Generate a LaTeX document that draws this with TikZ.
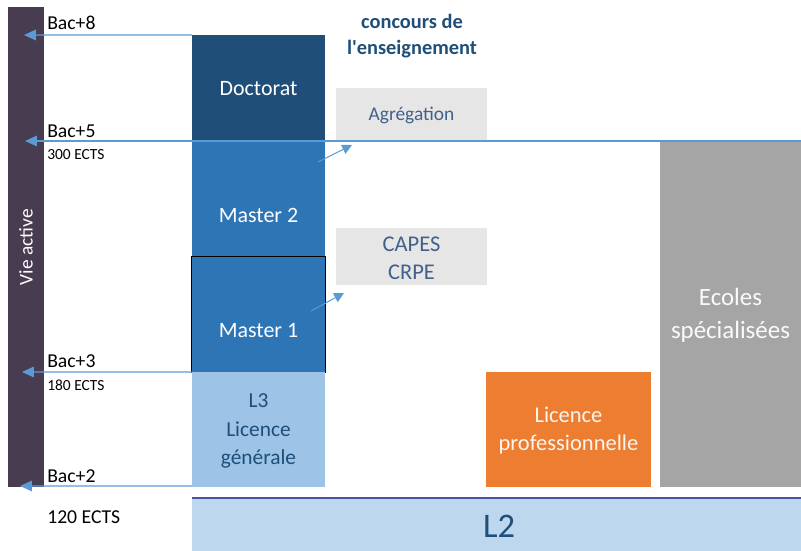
\documentclass[tikz,border=0pt]{standalone}
\usepackage{fontspec}
\setmainfont{Carlito}
\usetikzlibrary{arrows.meta}

\definecolor{vie}{HTML}{483D50}
\definecolor{doct}{HTML}{1F4E79}
\definecolor{mast}{HTML}{2E75B6}
\definecolor{lic3}{HTML}{9DC3E6}
\definecolor{lic2}{HTML}{BDD7EE}
\definecolor{conc}{HTML}{E7E6E6}
\definecolor{conctxt}{HTML}{41608A}
\definecolor{pro}{HTML}{ED7D31}
\definecolor{ecole}{HTML}{A5A5A5}
\definecolor{ligne}{HTML}{5B9BD5}
\definecolor{bordl2}{HTML}{4A55A2}

\tikzset{
  bloc/.style={rectangle, inner sep=0pt, outer sep=0pt},
  texte/.style={align=center, inner sep=0pt},
  niveau/.style={anchor=west, inner sep=0pt, font=\fontsize{14}{16}\selectfont},
  ects/.style={anchor=west, inner sep=0pt, font=\fontsize{11}{13}\selectfont},
  fleche/.style={draw=ligne, line width=1pt, -{Triangle[length=8.5pt,width=7.5pt]}},
  petite/.style={draw=ligne, line width=0.7pt, -{Triangle[length=7pt,width=7pt]}}
}

\begin{document}
\begin{tikzpicture}[x=0.025cm, y=-0.025cm]
  \useasboundingbox (0,0) rectangle (801,551);

  \node[bloc, fill=vie, rotate=90, minimum width=12cm, minimum height=0.9cm,
        text=white, font=\fontsize{13.8}{16}\selectfont] (vie) at (26,247) {Vie active};

  \node[bloc, fill=doct, minimum width=3.325cm, minimum height=2.65cm] (doctorat) at (258.5,88) {};
  \node[bloc, fill=mast, minimum width=3.325cm, minimum height=2.9cm] (master2) at (258.5,199) {};
  \node[bloc, fill=mast, draw=black, line width=0.7pt, minimum width=3.325cm, minimum height=2.875cm] (master1) at (258.5,314.5) {};
  \node[bloc, fill=lic3, minimum width=3.325cm, minimum height=2.875cm] (l3) at (258.5,429.5) {};
  \node[bloc, fill=lic2, minimum width=15.225cm, minimum height=1.325cm] (l2) at (496.5,524.5) {};
  \draw[bordl2, line width=0.8pt] (l2.north west) -- (l2.north east);

  \node[bloc, fill=conc, minimum width=3.775cm, minimum height=1.3cm] (agreg) at (411.5,114) {};
  \node[bloc, fill=conc, minimum width=3.775cm, minimum height=1.425cm] (capes) at (411.5,256.5) {};
  \node[bloc, fill=pro, minimum width=4.125cm, minimum height=2.875cm] (licpro) at (568.5,429.5) {};
  \node[bloc, fill=ecole, minimum width=3.525cm, minimum height=8.65cm] (ecoles) at (730.5,314) {};

  \node[texte, text=white, font=\fontsize{15.6}{18}\selectfont] (doctxt) at (258.5,89) {Doctorat};
  \node[texte, text=white, font=\fontsize{15.6}{18}\selectfont] (m2txt) at (258.5,215) {Master 2};
  \node[texte, text=white, font=\fontsize{15.6}{18}\selectfont] (m1txt) at (258.5,331) {Master 1};
  \node[texte, text=doct, font=\fontsize{15.2}{20.3}\selectfont] (l3txt) at (258.5,431) {L3\\Licence\\générale};
  \node[texte, text=doct, font=\fontsize{24.5}{28}\selectfont] (l2txt) at (499,526) {L2};
  \node[texte, text=conctxt, font=\fontsize{13.8}{16}\selectfont] (agregtxt) at (411.5,115) {Agrégation};
  \node[texte, text=conctxt, font=\fontsize{16}{20}\selectfont] (capestxt) at (411.5,258) {CAPES\\CRPE};
  \node[texte, text=white!92!pro, font=\fontsize{16}{20}\selectfont] (licprotxt) at (568.5,431) {Licence\\professionnelle};
  \node[texte, text=white!95!ecole, font=\fontsize{17.7}{23.4}\selectfont] (ecolestxt) at (730.5,315) {Ecoles\\spécialisées};
  \node[texte, text=doct, font=\bfseries\fontsize{14.5}{18.5}\selectfont] (concours) at (412,36) {concours de\\l\textquotesingle enseignement};

  \node[niveau] (bac8) at (47,23) {Bac+8};
  \node[niveau] (bac5) at (47,131) {Bac+5};
  \node[ects] (ects300) at (47,155) {300 ECTS};
  \node[niveau] (bac3) at (47,361) {Bac+3};
  \node[ects] (ects180) at (47,385) {180 ECTS};
  \node[niveau] (bac2) at (47,476) {Bac+2};
  \node[niveau] (ects120) at (47,517) {120 ECTS};

  \coordinate (v8) at (24,35);
  \coordinate (v5) at (25,141);
  \coordinate (v3) at (22,372);
  \coordinate (v2) at (20,486);
  \coordinate (droite) at (801,141);
  \coordinate (m2dep) at (318,162);
  \coordinate (agregarr) at (352,145);
  \coordinate (m1dep) at (311,311);
  \coordinate (capesarr) at (344,293);

  \draw[fleche] (doctorat.north west) -- (v8);
  \draw[fleche] (droite) -- (v5);
  \draw[fleche] (master1.south west) -- (v3);
  \draw[fleche] ([yshift=0.025cm]l3.south west) -- (v2);
  \draw[petite] (m2dep) -- (agregarr);
  \draw[petite] (m1dep) -- (capesarr);
\end{tikzpicture}
\end{document}
